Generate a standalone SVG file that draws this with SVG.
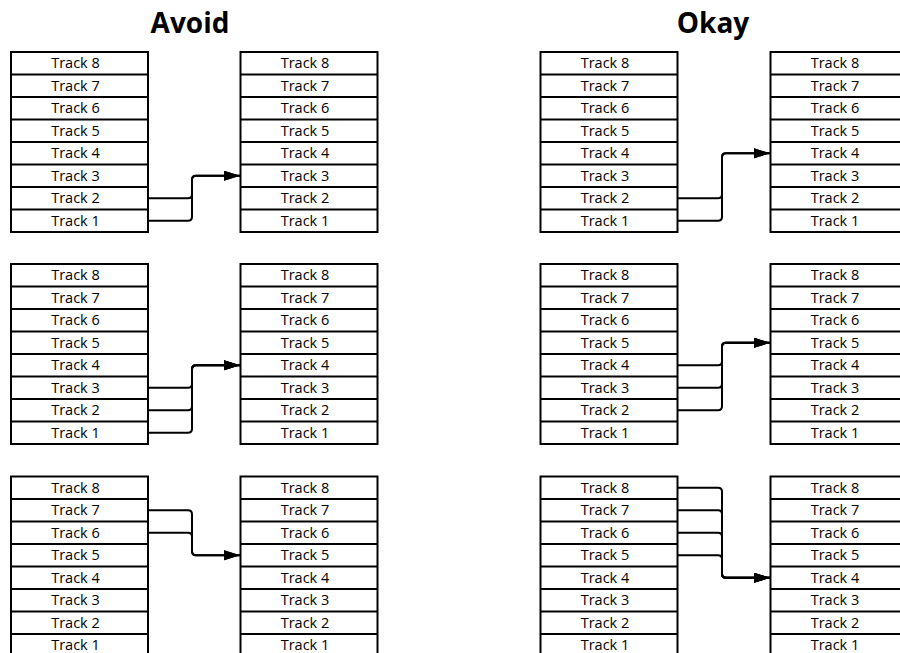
<svg xmlns="http://www.w3.org/2000/svg" width="900" height="653" viewBox="0 0 900 653">
<defs>
<style>
.bg{fill:#fff}
.box{fill:#fff;stroke:#000;stroke-width:2}
.row{stroke:#000;stroke-width:2}
.t{font-family:"Open Sans","DejaVu Sans",sans-serif;font-size:14.5px;fill:#000;text-anchor:middle}
.h{font-family:"Open Sans","DejaVu Sans",sans-serif;font-size:28px;font-weight:bold;fill:#000;text-anchor:middle}
.c{fill:none;stroke:#000;stroke-width:2}
</style>
<marker id="arr" markerUnits="userSpaceOnUse" markerWidth="18" markerHeight="12" refX="16" refY="5" orient="auto">
<path d="M0,0 L16,5 L0,10 Z" fill="#000"/>
</marker>
<g id="stack">
<rect class="box" x="0" y="0" width="137" height="180"/>
<path class="row" d="M0,22.5H137M0,45H137M0,67.5H137M0,90H137M0,112.5H137M0,135H137M0,157.5H137"/>
<text class="t" x="64.5" y="16.3">Track 8</text>
<text class="t" x="64.5" y="38.8">Track 7</text>
<text class="t" x="64.5" y="61.3">Track 6</text>
<text class="t" x="64.5" y="83.8">Track 5</text>
<text class="t" x="64.5" y="106.3">Track 4</text>
<text class="t" x="64.5" y="128.8">Track 3</text>
<text class="t" x="64.5" y="151.3">Track 2</text>
<text class="t" x="64.5" y="173.8">Track 1</text>
</g>
</defs>
<rect class="bg" x="0" y="0" width="900" height="653"/>
<text class="h" x="190" y="33">Avoid</text>
<text class="h" x="713" y="33">Okay</text>

<g id="avoid-1-src"><use href="#stack" x="11" y="52"/></g>
<g id="avoid-1-dst"><use href="#stack" x="240.5" y="52"/></g>
<g id="avoid-2-src"><use href="#stack" x="11" y="264"/></g>
<g id="avoid-2-dst"><use href="#stack" x="240.5" y="264"/></g>
<g id="avoid-3-src"><use href="#stack" x="11" y="476.5"/></g>
<g id="avoid-3-dst"><use href="#stack" x="240.5" y="476.5"/></g>
<g id="okay-1-src"><use href="#stack" x="540.5" y="52"/></g>
<g id="okay-1-dst"><use href="#stack" x="770.5" y="52"/></g>
<g id="okay-2-src"><use href="#stack" x="540.5" y="264"/></g>
<g id="okay-2-dst"><use href="#stack" x="770.5" y="264"/></g>
<g id="okay-3-src"><use href="#stack" x="540.5" y="476.5"/></g>
<g id="okay-3-dst"><use href="#stack" x="770.5" y="476.5"/></g>

<g id="connectors">
<!-- Avoid 1 -->
<path class="c" d="M148,198.25H188Q192,198.25 192,194.25V179.75Q192,175.75 196,175.75H240" marker-end="url(#arr)"/>
<path class="c" d="M148,220.75H188Q192,220.75 192,216.75V179.75Q192,175.75 196,175.75H240" marker-end="url(#arr)"/>
<!-- Avoid 2 -->
<path class="c" d="M148,387.75H188Q192,387.75 192,383.75V369.25Q192,365.25 196,365.25H240" marker-end="url(#arr)"/>
<path class="c" d="M148,410.25H188Q192,410.25 192,406.25V369.25Q192,365.25 196,365.25H240" marker-end="url(#arr)"/>
<path class="c" d="M148,432.75H188Q192,432.75 192,428.75V369.25Q192,365.25 196,365.25H240" marker-end="url(#arr)"/>
<!-- Avoid 3 -->
<path class="c" d="M148,510.25H188Q192,510.25 192,514.25V551.25Q192,555.25 196,555.25H240" marker-end="url(#arr)"/>
<path class="c" d="M148,532.75H188Q192,532.75 192,536.75V551.25Q192,555.25 196,555.25H240" marker-end="url(#arr)"/>
<!-- Okay 1 -->
<path class="c" d="M678,198.25H718Q722,198.25 722,194.25V157.25Q722,153.25 726,153.25H770" marker-end="url(#arr)"/>
<path class="c" d="M678,220.75H718Q722,220.75 722,216.75V157.25Q722,153.25 726,153.25H770" marker-end="url(#arr)"/>
<!-- Okay 2 -->
<path class="c" d="M678,365.25H718Q722,365.25 722,361.25V346.75Q722,342.75 726,342.75H770" marker-end="url(#arr)"/>
<path class="c" d="M678,387.75H718Q722,387.75 722,383.75V346.75Q722,342.75 726,342.75H770" marker-end="url(#arr)"/>
<path class="c" d="M678,410.25H718Q722,410.25 722,406.25V346.75Q722,342.75 726,342.75H770" marker-end="url(#arr)"/>
<!-- Okay 3 -->
<path class="c" d="M678,487.75H718Q722,487.75 722,491.75V573.75Q722,577.75 726,577.75H770" marker-end="url(#arr)"/>
<path class="c" d="M678,510.25H718Q722,510.25 722,514.25V573.75Q722,577.75 726,577.75H770" marker-end="url(#arr)"/>
<path class="c" d="M678,532.75H718Q722,532.75 722,536.75V573.75Q722,577.75 726,577.75H770" marker-end="url(#arr)"/>
<path class="c" d="M678,555.25H718Q722,555.25 722,559.25V573.75Q722,577.75 726,577.75H770" marker-end="url(#arr)"/>
</g>
</svg>
